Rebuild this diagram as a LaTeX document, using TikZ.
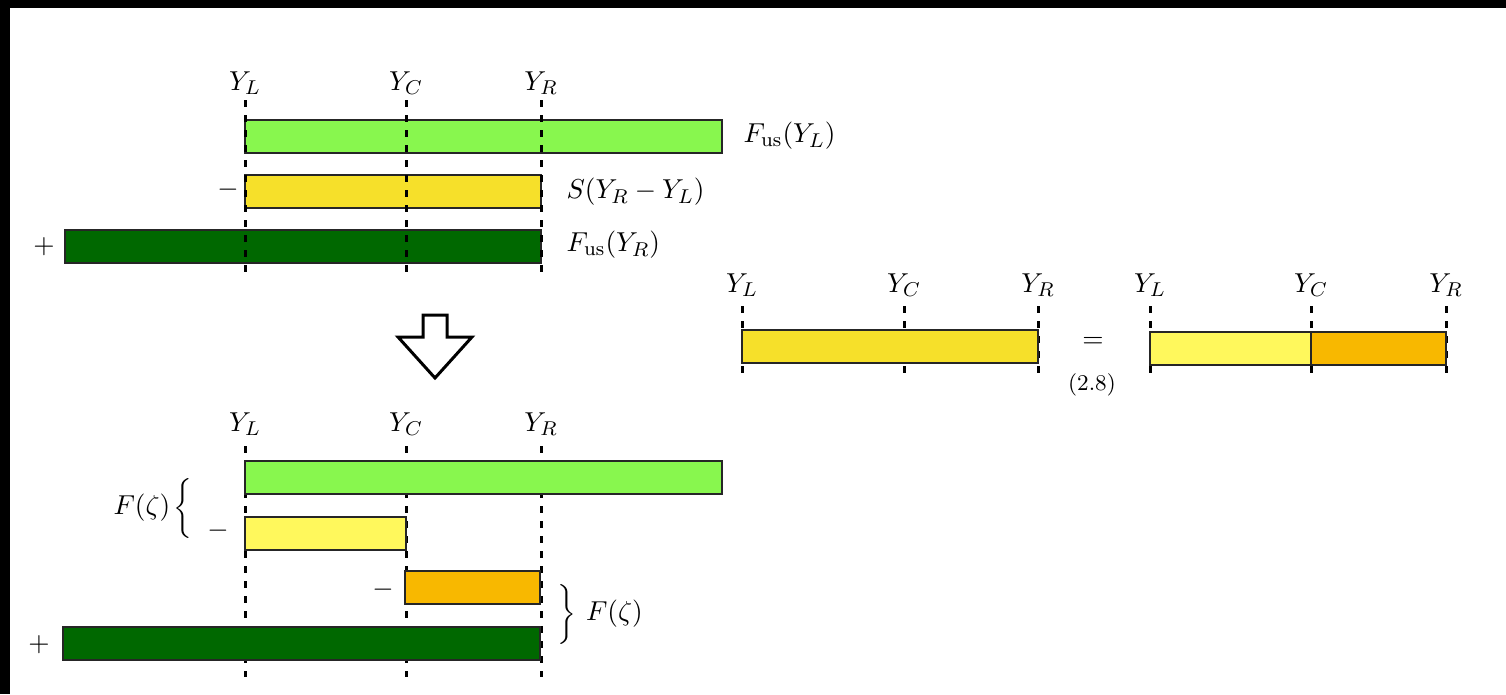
\documentclass[tikz,border=0pt]{standalone}
\usepackage{xcolor}
\definecolor{lgreen}{HTML}{88F74E}
\definecolor{dgreen}{HTML}{006800}
\definecolor{syellow}{HTML}{F6E02A}
\definecolor{lyellow}{HTML}{FFF85C}
\definecolor{sorange}{HTML}{F8B800}
\begin{document}
\begin{tikzpicture}[x=0.4pt,y=-0.4pt,
  vline/.style={line width=1.2pt, dash pattern=on 2.6pt off 3.4pt},
  bar/.style={draw=black!85, line width=0.6pt},
  lbl/.style={inner sep=0pt, font=\fontsize{10.8pt}{13pt}\selectfont},
  brc/.style={inner sep=0pt, font=\fontsize{10pt}{12pt}\selectfont}]
\useasboundingbox (0,0) rectangle (1506,694);
\fill[white] (0,0) rectangle (1506,694);
\fill[black] (0,0) rectangle (1506,8);
\fill[black] (0,0) rectangle (10,694);

% ---------- top section ----------
\draw[bar,fill=lgreen]  (245,120) rectangle (722,153);
\draw[bar,fill=syellow] (245,175) rectangle (541,208);
\draw[bar,fill=dgreen]  (65,230) rectangle (541,263);
\foreach \x in {245,406,541} \draw[vline] (\x,100) -- (\x,278);
\node[lbl] (tyl) at (245,83) {$Y_L$};
\node[lbl] (tyc) at (406,83) {$Y_C$};
\node[lbl] (tyr) at (541,83) {$Y_R$};
\node[lbl,anchor=west] (tf1) at (743,136) {$F_{\mathrm{us}}(Y_L)$};
\node[lbl,anchor=west] (ts) at (566,192) {$S(Y_R-Y_L)$};
\node[lbl,anchor=west] (tf2) at (566,245) {$F_{\mathrm{us}}(Y_R)$};
\node[lbl] (tm) at (228,190) {$-$};
\node[lbl] (tp) at (44,247) {$+$};

% ---------- arrow ----------
\draw[line width=1.2pt, line join=miter] (423,315) -- (447,315) -- (447,337) -- (472,337)
  -- (435,378) -- (398,337) -- (423,337) -- cycle;

% ---------- right section ----------
\foreach \x in {742,904,1038} \draw[vline] (\x,306) -- (\x,375);
\draw[bar,fill=syellow] (742,330) rectangle (1038,363);
\node[lbl] (ryl) at (742,285) {$Y_L$};
\node[lbl] (ryc) at (904,285) {$Y_C$};
\node[lbl] (ryr) at (1038,285) {$Y_R$};
\node[lbl] (eq) at (1093,342) {$=$};
\node[inner sep=0pt, font=\fontsize{9pt}{11pt}\selectfont] (eqn) at (1092,385) {(2.8)};
\foreach \x in {1150,1311,1446} \draw[vline] (\x,306) -- (\x,375);
\draw[bar,fill=lyellow] (1150,332) rectangle (1311,365);
\draw[bar,fill=sorange] (1311,332) rectangle (1446,365);
\node[lbl] (syl) at (1150,285) {$Y_L$};
\node[lbl] (syc) at (1311,285) {$Y_C$};
\node[lbl] (syr) at (1446,285) {$Y_R$};

% ---------- bottom section ----------
\foreach \x in {245,406,541} \draw[vline] (\x,446) -- (\x,677);
\draw[bar,fill=lgreen]  (245,461) rectangle (722,494);
\draw[bar,fill=lyellow] (245,517) rectangle (406,550);
\draw[bar,fill=sorange] (405,571) rectangle (540,604);
\draw[bar,fill=dgreen]  (63,627) rectangle (540,660);
\node[lbl] (byl) at (245,424) {$Y_L$};
\node[lbl] (byc) at (406,424) {$Y_C$};
\node[lbl] (byr) at (541,424) {$Y_R$};
\node[lbl] (bm1) at (218,531) {$-$};
\node[lbl] (bm2) at (383,590) {$-$};
\node[lbl] (bp) at (39,645) {$+$};
\node[brc,anchor=east] (br1) at (196,508)
  {$\left\{\vrule height 14pt depth 9pt width 0pt\right.$};
\node[lbl,anchor=east] (fz1) at ([xshift=-1pt]br1.west) {$F(\zeta)$};
\node[brc,anchor=west] (br2) at (554,614)
  {$\left.\vrule height 14pt depth 9pt width 0pt\right\}$};
\node[lbl,anchor=west] (fz2) at ([xshift=3.5pt]br2.east) {$F(\zeta)$};
\end{tikzpicture}
\end{document}
